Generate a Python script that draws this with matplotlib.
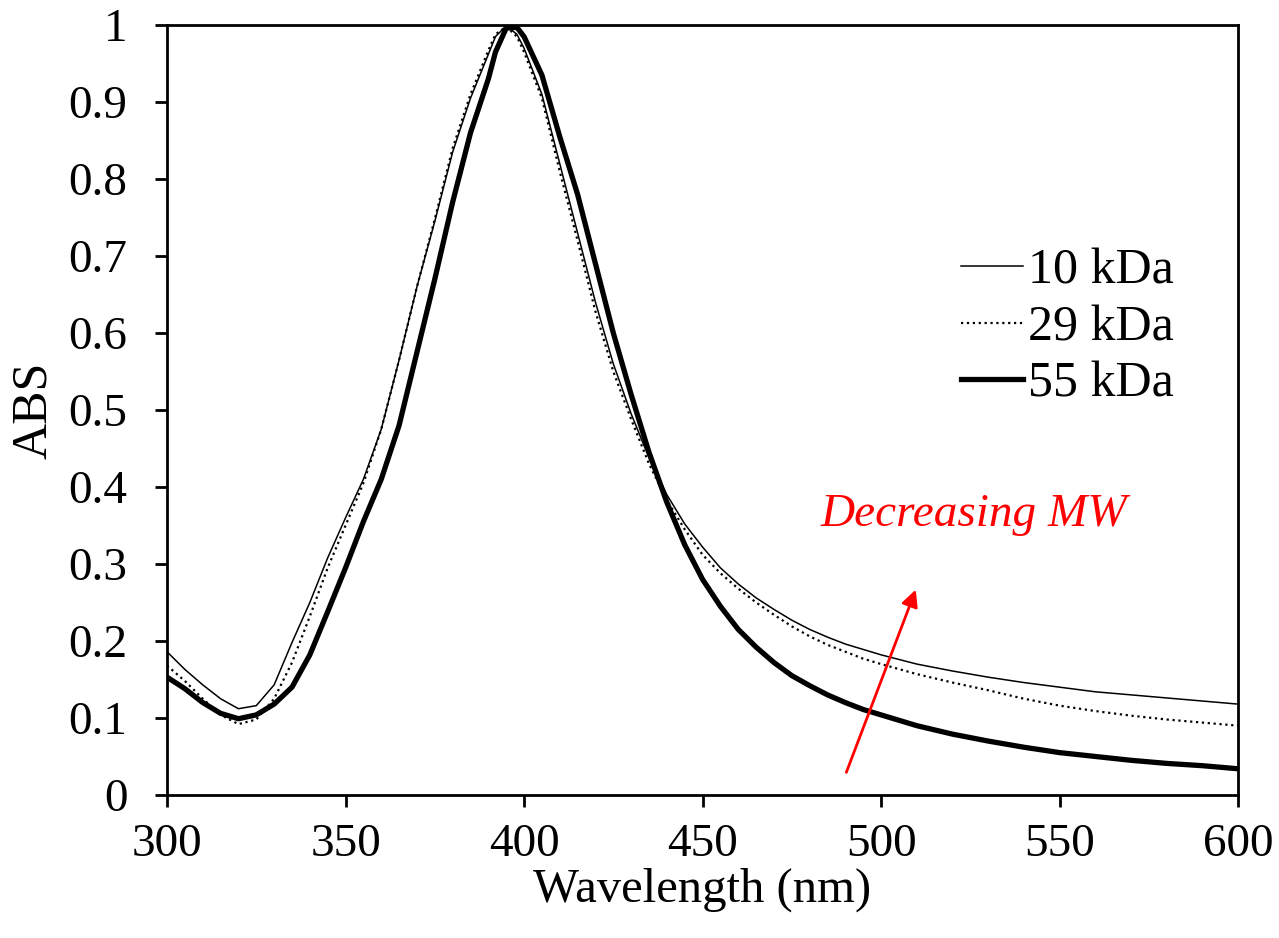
import matplotlib
matplotlib.use("Agg")
import matplotlib.pyplot as plt
from matplotlib.ticker import MultipleLocator

plt.rcParams['font.family'] = ['Liberation Serif', 'DejaVu Serif']

# wavelength grid (nm)
wl = [300, 305, 310, 315, 320, 325, 330, 335, 340, 345,
      350, 355, 360, 365, 370, 375, 380, 385, 390, 392,
      395, 398, 400, 405, 410, 415, 420, 425, 430, 435,
      440, 445, 450, 455, 460, 465, 470, 475, 480, 485,
      490, 495, 500, 510, 520, 530, 540, 550, 560, 570,
      580, 590, 600]

abs_10 = [0.186, 0.163, 0.143, 0.125, 0.112, 0.116, 0.143, 0.198, 0.250, 0.308,
          0.360, 0.410, 0.475, 0.565, 0.660, 0.745, 0.835, 0.905, 0.962, 0.985,
          0.999, 0.988, 0.970, 0.910, 0.820, 0.730, 0.640, 0.560, 0.495, 0.438,
          0.390, 0.352, 0.322, 0.295, 0.274, 0.256, 0.241, 0.227, 0.215, 0.205,
          0.196, 0.189, 0.182, 0.170, 0.161, 0.153, 0.146, 0.140, 0.134, 0.130,
          0.126, 0.122, 0.118]

abs_29 = [0.168, 0.148, 0.125, 0.104, 0.092, 0.098, 0.125, 0.172, 0.232, 0.295,
          0.350, 0.405, 0.475, 0.565, 0.660, 0.748, 0.840, 0.910, 0.967, 0.988,
          0.998, 0.985, 0.965, 0.905, 0.810, 0.720, 0.628, 0.550, 0.488, 0.430,
          0.383, 0.345, 0.312, 0.288, 0.268, 0.250, 0.234, 0.219, 0.206, 0.195,
          0.186, 0.177, 0.170, 0.157, 0.146, 0.136, 0.125, 0.116, 0.109, 0.103,
          0.098, 0.094, 0.090]

abs_55 = [0.153, 0.138, 0.120, 0.106, 0.099, 0.104, 0.118, 0.140, 0.182, 0.238,
          0.295, 0.355, 0.410, 0.480, 0.575, 0.670, 0.770, 0.860, 0.930, 0.965,
          0.996, 0.997, 0.985, 0.935, 0.855, 0.780, 0.690, 0.600, 0.520, 0.445,
          0.380, 0.325, 0.280, 0.245, 0.215, 0.192, 0.172, 0.155, 0.142, 0.130,
          0.120, 0.111, 0.104, 0.090, 0.079, 0.070, 0.062, 0.055, 0.050, 0.045,
          0.041, 0.038, 0.034]

labels = ["10 kDa", "29 kDa", "55 kDa"]

fig = plt.figure(figsize=(12.79, 9.38), dpi=100)
ax = fig.add_axes([0.1306, 0.1525, 0.8374, 0.8208])

ax.plot(wl, abs_10, "k-", linewidth=1.1, label=labels[0])
ax.plot(wl, abs_29, "k:", linewidth=1.6, label=labels[1])
ax.plot(wl, abs_55, "k-", linewidth=3.8, label=labels[2])

ax.set_xlim(300, 600)
ax.set_ylim(0, 1)
ax.xaxis.set_major_locator(MultipleLocator(50))
ax.yaxis.set_major_locator(MultipleLocator(0.1))
ax.yaxis.set_major_formatter(plt.FuncFormatter(lambda v, p: "%g" % round(v, 1)))

ax.set_xlabel("Wavelength (nm)", fontsize=35, labelpad=1)
ax.set_ylabel("ABS", fontsize=36, labelpad=8)
ax.tick_params(which='major', direction='out', length=8.5, width=2, labelsize=34)
ax.tick_params(axis='x', pad=12)
ax.tick_params(axis='y', pad=20)
for s in ax.spines.values():
    s.set_linewidth(2)

ax.legend(loc='upper right', bbox_to_anchor=(0.94, 0.71), frameon=False,
          fontsize=36, handlelength=1.25, handletextpad=0.1, labelspacing=0.2,
          borderpad=0, borderaxespad=0)

# arrow + note
ax.annotate("", xy=(510, 0.27), xytext=(490, 0.026),
            arrowprops=dict(arrowstyle="-|>", color="red", lw=2, mutation_scale=25))
ax.text(483, 0.364, "Decreasing MW", color="red", fontsize=34, style="italic", va="center")

fig.savefig("out.png", dpi=100)
